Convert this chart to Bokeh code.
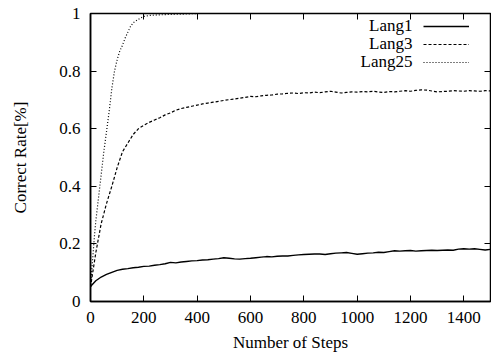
from bokeh.plotting import figure
from bokeh.models import (LinearAxis, FixedTicker, NumeralTickFormatter, Range1d,
                          Legend, LegendItem, Label, CustomJSTickFormatter)
from bokeh.core.properties import value
from bokeh.embed import file_html
from bokeh.resources import INLINE

FONT = "Liberation Serif"

# ---- data ----
steps_20 = list(range(0, 1501, 20))
lang1 = [0.052, 0.072, 0.085, 0.094, 0.101, 0.108, 0.112, 0.114, 0.117, 0.119,
         0.122, 0.123, 0.126, 0.128, 0.131, 0.136, 0.134, 0.137, 0.139, 0.141,
         0.142, 0.144, 0.145, 0.147, 0.149, 0.152, 0.150, 0.148, 0.147, 0.149,
         0.150, 0.152, 0.154, 0.156, 0.155, 0.157, 0.158, 0.158, 0.160, 0.162,
         0.163, 0.164, 0.165, 0.165, 0.163, 0.166, 0.168, 0.169, 0.170, 0.167,
         0.164, 0.166, 0.168, 0.169, 0.171, 0.170, 0.173, 0.176, 0.175, 0.176,
         0.177, 0.175, 0.176, 0.177, 0.178, 0.177, 0.178, 0.179, 0.178, 0.182,
         0.183, 0.182, 0.183, 0.181, 0.179, 0.181]
lang3 = [0.050, 0.170, 0.270, 0.340, 0.400, 0.465, 0.520, 0.550, 0.580, 0.600,
         0.612, 0.622, 0.630, 0.638, 0.648, 0.655, 0.664, 0.670, 0.674, 0.678,
         0.682, 0.686, 0.689, 0.692, 0.695, 0.698, 0.701, 0.703, 0.706, 0.709,
         0.712, 0.711, 0.714, 0.716, 0.717, 0.720, 0.721, 0.723, 0.724, 0.722,
         0.725, 0.724, 0.727, 0.725, 0.728, 0.730, 0.727, 0.724, 0.726, 0.728,
         0.727, 0.729, 0.728, 0.730, 0.727, 0.726, 0.729, 0.728, 0.730, 0.732,
         0.730, 0.733, 0.735, 0.734, 0.731, 0.728, 0.729, 0.730, 0.732, 0.731,
         0.730, 0.732, 0.731, 0.730, 0.732, 0.731]
steps_25 = [0, 5, 10, 15, 20, 30, 40, 50, 60, 70, 80, 90, 100, 110, 120, 130, 140,
            150, 160, 180, 200, 220, 250, 280, 300, 350, 400, 500, 600, 800, 1000,
            1200, 1500]
lang25 = [0.050, 0.110, 0.170, 0.230, 0.280, 0.360, 0.440, 0.520, 0.590, 0.660,
          0.740, 0.800, 0.840, 0.870, 0.890, 0.915, 0.935, 0.955, 0.968, 0.980,
          0.990, 0.993, 0.995, 0.996, 0.997, 0.998, 1.0, 1.0, 1.0, 1.0, 1.0,
          1.0, 1.0]
x_ticks = [0, 200, 400, 600, 800, 1000, 1200, 1400]
y_ticks = [0, 0.2, 0.4, 0.6, 0.8, 1.0]
series_names = ["Lang1", "Lang3", "Lang25"]

p = figure(width=491, height=358, output_backend="svg", toolbar_location=None,
           x_range=Range1d(0, 1500), y_range=Range1d(0, 1),
           min_border_left=90, min_border_right=1, min_border_top=13,
           min_border_bottom=57)
p.background_fill_color = "white"
p.border_fill_color = "white"
p.grid.visible = False
p.outline_line_color = "black"
p.outline_line_width = 1.5

for ax in [p.xaxis[0], p.yaxis[0]]:
    ax.major_tick_in = 6
    ax.major_tick_out = 0
    ax.minor_tick_line_color = None
    ax.axis_line_color = "black"
    ax.axis_line_width = 1.5
    ax.major_label_text_font = FONT
    ax.major_label_text_font_size = "17px"
    ax.major_label_text_color = "black"
    ax.axis_label_text_font = FONT
    ax.axis_label_text_font_size = "17px"
    ax.axis_label_text_font_style = "normal"
    ax.axis_label_text_color = "black"

p.xaxis[0].ticker = FixedTicker(ticks=x_ticks)
p.yaxis[0].ticker = FixedTicker(ticks=y_ticks)
p.yaxis[0].formatter = NumeralTickFormatter(format="0.[0]")
p.xaxis[0].axis_label = "Number of Steps"
p.yaxis[0].axis_label = "Correct Rate[%]"
p.xaxis[0].major_label_standoff = 10
p.yaxis[0].major_label_standoff = 10
p.xaxis[0].axis_label_standoff = 7
p.yaxis[0].axis_label_standoff = 26

# mirrored ticks (no labels)
blank = CustomJSTickFormatter(code="return ''")
top = LinearAxis(ticker=FixedTicker(ticks=x_ticks), major_tick_in=6, major_tick_out=0,
                 minor_tick_line_color=None, formatter=blank,
                 axis_line_color=None, major_label_standoff=0)
right = LinearAxis(ticker=FixedTicker(ticks=y_ticks), major_tick_in=6, major_tick_out=0,
                   minor_tick_line_color=None, formatter=blank,
                   axis_line_color=None, major_label_standoff=0)
p.add_layout(top, "above")
p.add_layout(right, "right")

r1 = p.line(steps_20, lang1, line_color="black", line_width=1.4)
r3 = p.line(steps_20, lang3, line_color="black", line_width=1.2, line_dash="3 2")
r25 = p.line(steps_25, lang25, line_color="black", line_width=1.2, line_dash="1 2")

legend = Legend(items=[LegendItem(label=value(""), renderers=[r]) for r in (r1, r3, r25)],
                location=(333, 230), glyph_width=46, glyph_height=18, label_width=0,
                label_standoff=0, padding=0, spacing=0, margin=0,
                border_line_alpha=0, background_fill_alpha=0)
p.add_layout(legend, "center")

for i, name in enumerate(series_names):
    p.add_layout(Label(x=322, y=276 - 18 * i, x_units="screen", y_units="screen",
                       text=name, text_align="right", text_baseline="middle",
                       text_font=FONT, text_font_size="17px", text_color="black"))

open("out.html", "w").write(file_html(p, INLINE))
